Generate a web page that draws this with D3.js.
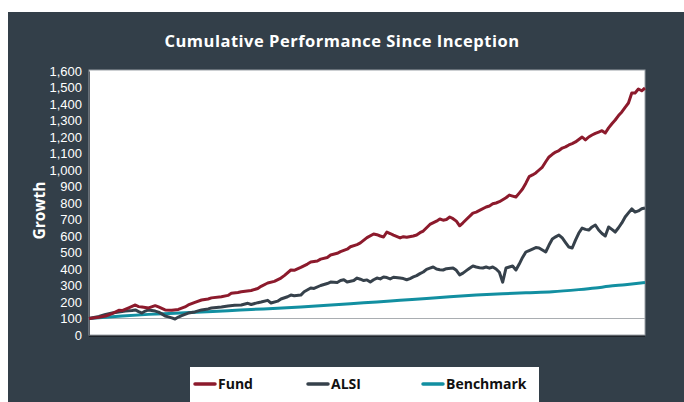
<!DOCTYPE html>
<html>
<head>
<meta charset="utf-8">
<script src="https://cdn.jsdelivr.net/npm/d3@7"></script>
<style>
  html, body { margin: 0; padding: 0; background: #ffffff; }
  svg { display: block; }
</style>
</head>
<body>
<svg id="chart" width="684" height="402"></svg>
<script>
// month index / value pairs
const fundData = [
  [0,100],[3,108],[5,115],[7,130],[9,150],[10,148],[12,165],[14,182],[15,172],[16,170],[18,164],[20,178],
  [21,170],[23,152],[25,150],[27,155],[29,170],[30,182],[32,198],[34,212],[36,218],[37,225],[40,232],[42,240],[43,253],
  [45,258],[46,262],[49,270],[51,282],[52,295],[54,315],[56,325],[58,345],[59,360],[61,394],[62,392],[64,410],
  [66,430],[67,442],[69,448],[70,460],[72,470],[73,485],[75,495],[76,505],[78,520],[79,535],
  [81,548],[82,558],[84,590],[86,612],[87,608],[88,600],[89,594],[90,624],[91,615],[92,605],[94,588],
  [95,596],[96,592],[98,600],[99,606],[100,620],
  [101,630],[103,670],[105,690],[106,703],[107,696],[108,700],[109,715],[110,705],[111,690],[112,662],[113,680],
  [114,700],[116,739],[117,745],[118,755],[120,776],[121,782],[122,795],[123,800],[124,808],[125,820],[126,832],
  [127,848],[128,842],[129,836],[130,860],[131,885],[132,920],[133,960],[134,970],
  [135,982],[136,1000],[137,1018],[138,1050],[139,1079],[140,1095],[141,1109],[142,1118],[143,1133],[144,1140],
  [145,1152],[146,1160],[147,1170],[148,1185],[149,1200],
  [150,1182],[151,1200],[152,1212],[153,1222],[154,1230],[155,1238],[156,1224],[157,1255],[158,1280],[159,1303],
  [160,1330],[161,1352],[162,1380],[163,1406],
  [164,1467],[165,1467],[166,1491],[167,1480],[168,1497]
];
const alsiData = [
  [0,100],[3,112],[5,125],[7,133],[9,140],[11,145],[13,148],[14,152],[15,142],[16,133],[17,145],[18,152],
  [20,145],[21,139],[22,128],[23,115],[24,110],[25,104],[26,97],[27,109],[28,118],[30,133],[32,140],[34,152],
  [36,158],[37,164],[40,170],[42,176],[44,180],[46,182],[48,192],[49,185],[51,196],[52,200],[54,210],[55,194],
  [57,205],[58,218],[60,232],[61,242],[62,238],[64,242],[65,262],[67,285],[68,282],[70,300],[72,312],[73,321],
  [75,318],[76,330],[77,335],[78,321],[80,330],[81,345],[82,338],[83,330],[84,334],
  [85,321],[86,335],[87,345],[88,340],[89,352],[90,348],[91,340],[92,350],[94,345],[95,342],[96,335],[97,342],
  [98,352],[99,360],[100,372],[101,382],[102,398],[103,405],[104,412],[105,400],[106,396],[107,394],[108,402],
  [110,406],[111,392],[112,364],[113,375],[114,390],[115,405],[116,418],[117,412],[118,408],[119,406],[120,412],
  [121,405],[122,412],[123,400],[124,380],[125,320],[126,406],[127,412],
  [128,418],[129,394],[130,430],[131,470],[132,503],[133,512],[134,521],[135,530],[136,527],[137,515],[138,503],
  [139,545],[140,582],[141,595],[142,606],[143,588],[144,560],
  [145,533],[146,527],[147,575],[148,618],[149,648],[150,640],[151,636],[152,655],[153,667],[154,636],[155,615],
  [156,600],[157,655],[158,640],[159,624],[160,650],[161,679],[162,715],[163,740],[164,764],[165,745],[166,752],
  [167,765],[168,770]
];
const benchData = [
  [0,100],[10,115],[18,125],[26,132],[34,140],[42,147],[49,155],[57,162],[64,170],[72,180],
  [79,190],[87,200],[94,210],[102,221],[109,232],[117,242],[125,250],[132,256],[140,262],
  [148,275],[153,285],[157,295],[162,305],[168,318]
];
const yTicks = d3.range(0, 1700, 100);
const seriesNames = ["Fund", "ALSI", "Benchmark"];
const seriesColors = ["#8c1a2c", "#36414b", "#128fa1"];

const svg = d3.select("#chart");
const bg = "#333f49";

svg.append("rect").attr("x", 8).attr("y", 12).attr("width", 676).attr("height", 390).attr("fill", bg);

svg.append("text")
  .attr("x", 342).attr("y", 47)
  .attr("text-anchor", "middle")
  .attr("fill", "#ffffff")
  .attr("font-family", "'Open Sans', sans-serif")
  .attr("font-weight", "bold")
  .attr("font-size", 16.5)
  .attr("letter-spacing", 0.5)
  .text("Cumulative Performance Since Inception");

const plot = { left: 89, right: 645, top: 70, bottom: 335 };

const x = d3.scaleLinear().domain([0, 168]).range([plot.left, plot.right]);
const y = d3.scaleLinear().domain([0, 1600]).range([plot.bottom, plot.top + 1]);

// plot area with a soft shadow at the bottom
svg.append("rect")
  .attr("x", plot.left).attr("y", plot.top + 1)
  .attr("width", plot.right - plot.left).attr("height", plot.bottom - plot.top + 1)
  .attr("fill", "#1e2329");
svg.append("rect")
  .attr("x", plot.left).attr("y", plot.top)
  .attr("width", plot.right - plot.left).attr("height", plot.bottom - plot.top)
  .attr("fill", "#ffffff")
  .attr("stroke", "#9aa0a6").attr("stroke-width", 1);

const yAxis = svg.append("g")
  .attr("transform", `translate(${plot.left},0)`)
  .call(d3.axisLeft(y).tickValues(yTicks).tickSize(0).tickPadding(7).tickFormat(d3.format(",")));
yAxis.select(".domain").attr("stroke", "#5b6168");
yAxis.selectAll("text")
  .attr("fill", "#ffffff")
  .attr("font-family", "'Liberation Sans', Arial, sans-serif")
  .attr("font-size", 13);

svg.append("text")
  .attr("transform", `translate(45,${(plot.top + plot.bottom) / 2 + 8}) rotate(-90)`)
  .attr("text-anchor", "middle")
  .attr("fill", "#ffffff")
  .attr("font-family", "'Open Sans', sans-serif")
  .attr("font-weight", "bold")
  .attr("font-size", 15.5)
  .text("Growth");

// baseline at 100
svg.append("line")
  .attr("x1", plot.left).attr("x2", plot.right)
  .attr("y1", y(100)).attr("y2", y(100))
  .attr("stroke", "#a9adb1").attr("stroke-width", 1);

const line = d3.line().x(d => x(d[0])).y(d => y(d[1]));
const benchLine = d3.line().x(d => x(d[0])).y(d => y(d[1])).curve(d3.curveMonotoneX);

const series = [fundData, alsiData, benchData];
[benchData, alsiData, fundData].forEach(data => {
  const i = series.indexOf(data);
  svg.append("path")
    .datum(data)
    .attr("fill", "none")
    .attr("stroke", seriesColors[i])
    .attr("stroke-width", 3)
    .attr("stroke-linejoin", "round")
    .attr("d", i === 2 ? benchLine : line);
});

// legend
svg.append("rect").attr("x", 190).attr("y", 367).attr("width", 349).attr("height", 40).attr("fill", "#ffffff");
const legendX = [195, 308, 423];
seriesNames.forEach((name, i) => {
  const g = svg.append("g").attr("transform", `translate(${legendX[i]},384)`);
  g.append("line").attr("x1", 0).attr("x2", 20).attr("y1", 0).attr("y2", 0)
    .attr("stroke", seriesColors[i]).attr("stroke-width", 3.5).attr("stroke-linecap", "round");
  g.append("text").attr("x", 23).attr("y", 5)
    .attr("fill", "#111111")
    .attr("font-family", "'Open Sans', sans-serif")
    .attr("font-weight", "bold")
    .attr("font-size", 14)
    .text(name);
});
</script>
</body>
</html>
